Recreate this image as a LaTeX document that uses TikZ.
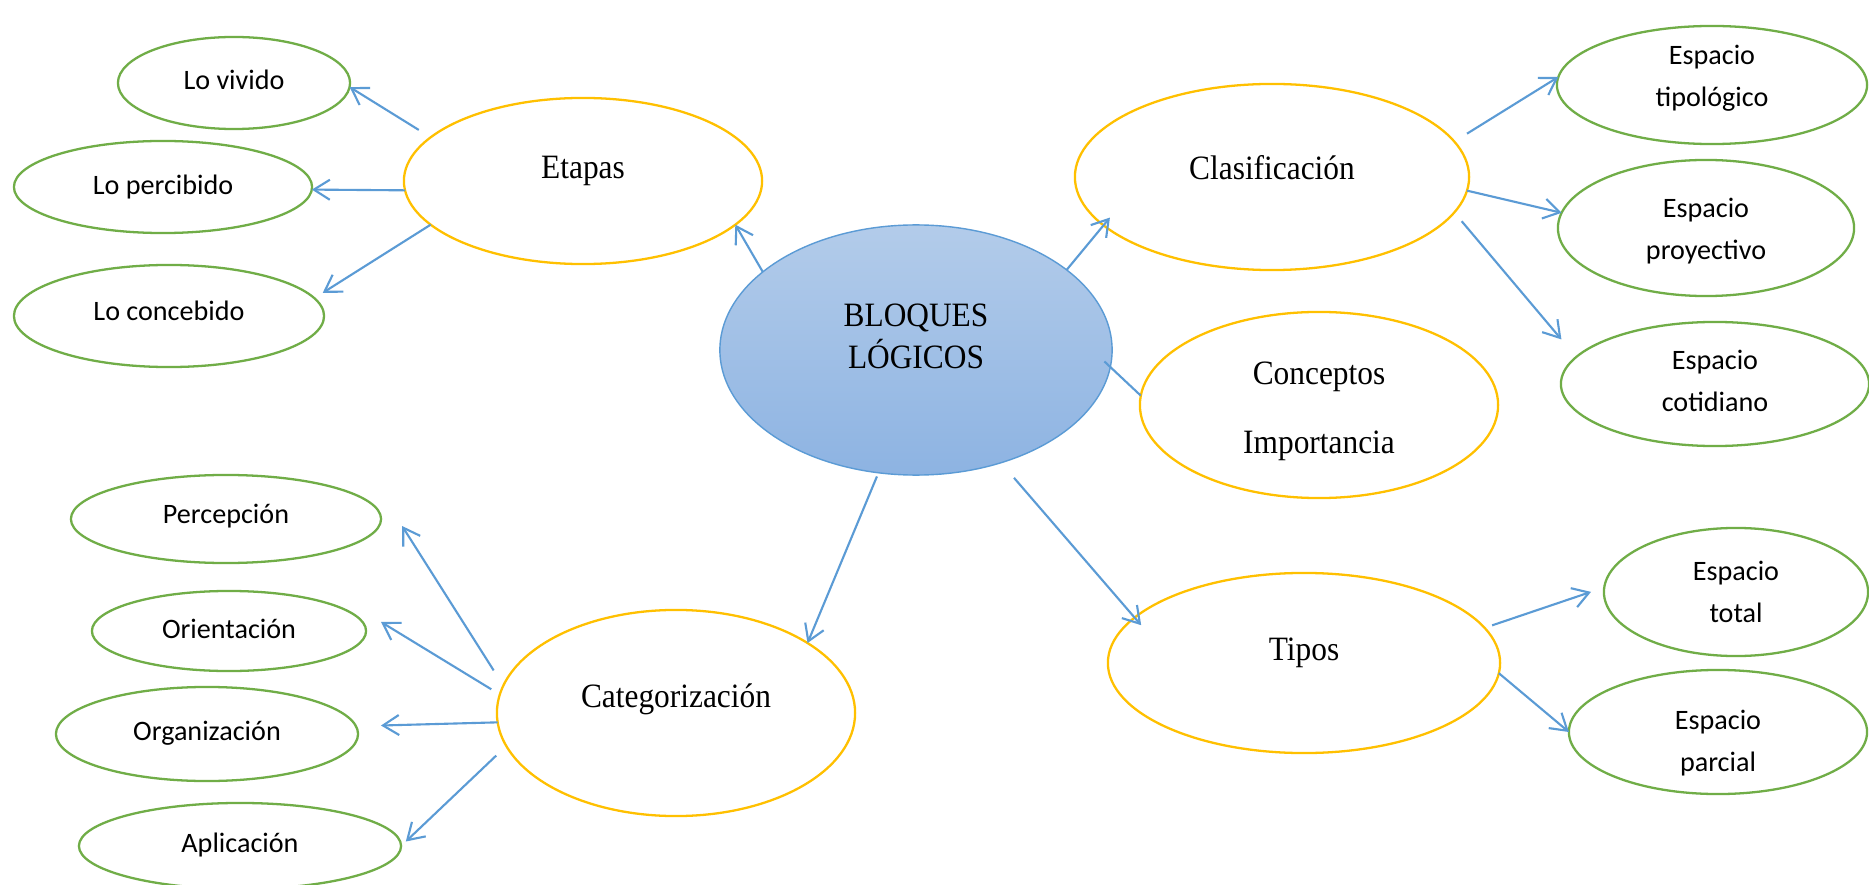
\documentclass[tikz,border=0pt]{standalone}
\usepackage{fontspec}
\setmainfont{Liberation Serif}
\newfontfamily\serifnarrow{Liberation Serif}[FakeStretch=0.92]
\newfontfamily\leaffont{Carlito}
\usetikzlibrary{arrows.meta,shapes.geometric}

\definecolor{gold}{HTML}{FFC000}
\definecolor{leaf}{HTML}{70AD47}
\definecolor{sky}{HTML}{5B9BD5}
\definecolor{hubtop}{HTML}{B3CCEA}
\definecolor{hubbottom}{HTML}{8DB3E2}

% two centred lines whose baseline is the baseline of the lower line
\newcommand\twoline[2]{\begin{tabular}[b]{@{}c@{}}#1\\#2\end{tabular}}

\begin{document}
\begin{tikzpicture}[x=0.01cm, y=-0.01cm,
  bubble/.style={ellipse, inner sep=0pt, outer sep=0pt},
  topic/.style={bubble, draw=gold, line width=0.65pt,
    font=\serifnarrow\fontsize{9.7pt}{11.67pt}\selectfont},
  leafnode/.style={bubble, draw=leaf, line width=0.65pt,
    font=\leaffont\fontsize{8pt}{11.67pt}\selectfont},
  hub/.style={bubble, draw=sky, line width=0.4pt,
    top color=hubtop, bottom color=hubbottom,
    font=\serifnarrow\fontsize{9.7pt}{11.67pt}\selectfont},
  ell/.style 2 args={minimum width=#1, minimum height=#2},
  bl/.style 2 args={text height=#1, text depth=#2},
  joint/.style={draw=sky, line width=0.6pt},
  link/.style={joint, -{Straight Barb[length=0.16cm, width=0.2cm]}},
]
\path[use as bounding box, fill=white] (0,0) rectangle (1869,885);

% central idea
\node[hub, ell={3.92cm}{2.50cm}, bl={0.36cm}{0cm}] (bloques) at (916,350)
  {\twoline{BLOQUES}{LÓGICOS}};

% main branches
\node[topic, ell={3.58cm}{1.66cm}, bl={0cm}{0.04cm}] (etapas) at (583,181) {Etapas};
\node[topic, ell={3.94cm}{1.86cm}, bl={0.04cm}{0cm}] (clasif) at (1272,177) {Clasificación};
\node[topic, ell={3.58cm}{1.86cm}, bl={0.96cm}{0cm},
  font=\serifnarrow\fontsize{9.7pt}{19.35pt}\selectfont] (conceptos) at (1319,405)
  {\twoline{Conceptos}{Importancia}};
\node[topic, ell={3.92cm}{1.80cm}, bl={0cm}{0.06cm}] (tipos) at (1304,663) {Tipos};
\node[topic, ell={3.58cm}{2.06cm}, bl={0cm}{0.10cm}] (categ) at (676,713) {Categorización};

% stages
\node[leafnode, ell={2.32cm}{0.92cm}, bl={0.12cm}{0cm}] (vivido) at (234,83) {Lo vivido};
\node[leafnode, ell={2.98cm}{0.92cm}, bl={0.14cm}{0cm}] (percibido) at (163,187) {Lo percibido};
\node[leafnode, ell={3.10cm}{1.02cm}, bl={0.08cm}{0cm}] (concebido) at (169,316) {Lo concebido};

% categories
\node[leafnode, ell={3.10cm}{0.88cm}, bl={0.08cm}{0cm}] (percepcion) at (226,519) {Percepción};
\node[leafnode, ell={2.74cm}{0.80cm}, bl={0.14cm}{0cm}] (orientacion) at (229,631) {Orientación};
\node[leafnode, ell={3.02cm}{0.94cm}, bl={0.12cm}{0cm}] (organizacion) at (207,734) {Organización};
\node[leafnode, ell={3.22cm}{0.86cm}, bl={0.12cm}{0cm}] (aplicacion) at (240,846) {Aplicación};

% kinds of space
\node[leafnode, ell={3.10cm}{1.18cm}, bl={0.42cm}{0cm}] (tipologico) at (1712,85)
  {\twoline{Espacio}{tipológico}};
\node[leafnode, ell={2.96cm}{1.36cm}, bl={0.62cm}{0cm}] (proyectivo) at (1706,228)
  {\twoline{Espacio}{proyectivo}};
\node[leafnode, ell={3.08cm}{1.24cm}, bl={0.54cm}{0cm}] (cotidiano) at (1715,384)
  {\twoline{Espacio}{cotidiano}};
\node[leafnode, ell={2.64cm}{1.28cm}, bl={0.60cm}{0cm}] (total) at (1736,592)
  {\twoline{Espacio}{total}};
\node[leafnode, ell={2.98cm}{1.24cm}, bl={0.78cm}{0cm}] (parcial) at (1718,732)
  {\twoline{Espacio}{parcial}};

% connectors
\draw[link, shorten <=0.14cm] (etapas.164.7) -- (vivido.-2);
\draw[link] (etapas.183) -- (percibido.-1);
\draw[link, shorten >=0.1cm] (etapas.196) -- (concebido.7);

\draw[link] (bloques.153) -- (etapas.-16.5);
\draw[link, shorten >=-0.1cm] (bloques.28) -- (clasif.196);
\draw[joint, shorten <=-0.08cm] (bloques.-5) -- (conceptos.177);
\draw[link, shorten <=0.04cm] (bloques.-107) -- (categ.28);
\draw[link, shorten <=0.2cm, shorten >=-0.1cm] (bloques.-53.6) -- (tipos.165.7);

\draw[link, shorten <=0.15cm] (clasif.11) -- (tipologico.177);
\draw[link] (clasif.-4) -- (proyectivo.174);
\draw[link, shorten <=0.115cm, shorten >=0.23cm] (clasif.-11.7) -- (cotidiano.169.2);

\draw[link, shorten <=0.08cm, shorten >=0.14cm] (tipos.11) -- (total.178);
\draw[link] (tipos.-3) -- (parcial.180);

\draw[link, shorten <=0.18cm] (categ.171.6)
  -- ([xshift=0.21cm, yshift=-0.07cm]percepcion.east);
\draw[link, shorten <=0.1cm] (categ.174.6)
  -- ([xshift=0.15cm, yshift=0.09cm]orientacion.east);
\draw[link, shorten >=0.25cm] (categ.183) -- (organizacion.3);
\draw[link, shorten <=0.14cm, shorten >=0.065cm] (categ.191.6) -- (aplicacion.0.6);
\end{tikzpicture}
\end{document}
